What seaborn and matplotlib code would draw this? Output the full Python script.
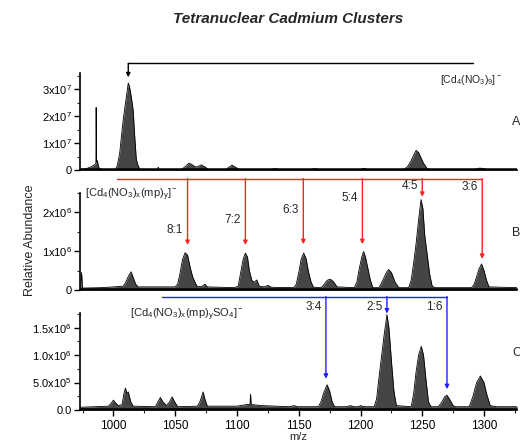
import matplotlib
matplotlib.use("Agg")
import pandas as pd
import matplotlib.pyplot as plt
import seaborn as sns
from matplotlib.ticker import MultipleLocator

# Setup
sns.set_theme(style="ticks")
plt.rcParams["font.family"] = ["Liberation Sans", "DejaVu Sans"]
plt.rcParams["mathtext.fontset"] = "custom"
plt.rcParams["mathtext.rm"] = "Liberation Sans"
plt.rcParams["mathtext.it"] = "Liberation Sans:italic"
plt.rcParams["mathtext.bf"] = "Liberation Sans:bold"
plt.rcParams["mathtext.default"] = "regular"

# --- Spectrum outlines (m/z, intensity) ---
# A: intensity in 1e7
mz_a = [973.5, 978, 982, 985, 985.8, 986, 986.3, 987, 988, 990,
        1001.5, 1003, 1005, 1006.7, 1008, 1009.5, 1011, 1012, 1013, 1014.5,
        1016, 1017, 1017.6, 1018.5, 1020, 1021.6,
        1036, 1036.2, 1036.5,
        1055, 1058, 1061, 1063, 1066, 1068, 1071, 1074, 1077,
        1091, 1094, 1096, 1099, 1102,
        1128, 1131, 1134, 1160, 1163, 1166, 1200, 1203, 1206,
        1235, 1238, 1241, 1243, 1245, 1247, 1249, 1251, 1254, 1256,
        1293, 1296, 1299, 1302, 1327]
int_a = [0.02, 0.05, 0.12, 0.2, 0.25, 2.32, 0.3, 0.35, 0.1, 0.02,
         0.02, 0.15, 0.6, 1.35, 1.9, 2.4, 2.9, 3.23, 3.1, 2.7,
         2.2, 1.4, 1.0, 0.4, 0.15, 0.02,
         0.02, 0.1, 0.02,
         0.02, 0.12, 0.25, 0.22, 0.12, 0.12, 0.19, 0.12, 0.02,
         0.02, 0.12, 0.18, 0.1, 0.02,
         0.02, 0.05, 0.02, 0.02, 0.05, 0.02, 0.02, 0.06, 0.02,
         0.02, 0.12, 0.35, 0.55, 0.73, 0.65, 0.45, 0.25, 0.05, 0.02,
         0.02, 0.07, 0.06, 0.02, 0.02]

# B: intensity in 1e6
mz_b = [973.5, 974.2, 975, 990, 1000, 1008, 1010, 1012, 1014.3, 1016, 1018, 1020,
        1040, 1050, 1052, 1054, 1056, 1058, 1060, 1062, 1064, 1066, 1068,
        1072, 1074, 1076,
        1098, 1101, 1103, 1105, 1106.8, 1108.5, 1110, 1112, 1114, 1116, 1118,
        1122, 1125, 1128,
        1146, 1148, 1150, 1152, 1154, 1156, 1158, 1160, 1162,
        1168, 1170, 1173, 1175.5, 1178, 1181,
        1195, 1197, 1199, 1201, 1202.5, 1204, 1206, 1208, 1210,
        1215, 1218, 1221, 1222.8, 1225, 1228, 1231,
        1239, 1241, 1243, 1245, 1247, 1249, 1250.5, 1252, 1254, 1256, 1258, 1260,
        1290, 1292, 1294, 1296, 1298, 1300, 1302, 1304, 1327]
int_b = [0.05, 0.45, 0.05, 0.06, 0.08, 0.1, 0.2, 0.35, 0.47, 0.32, 0.15, 0.08,
         0.08, 0.08, 0.15, 0.45, 0.8, 0.96, 0.9, 0.6, 0.35, 0.2, 0.08,
         0.1, 0.15, 0.08,
         0.06, 0.1, 0.45, 0.8, 0.95, 0.85, 0.5, 0.25, 0.2, 0.26, 0.1,
         0.08, 0.12, 0.07,
         0.06, 0.15, 0.45, 0.8, 0.95, 0.8, 0.45, 0.2, 0.07,
         0.06, 0.12, 0.25, 0.28, 0.22, 0.08,
         0.06, 0.2, 0.55, 0.85, 0.99, 0.85, 0.55, 0.25, 0.06,
         0.06, 0.25, 0.45, 0.53, 0.45, 0.2, 0.06,
         0.06, 0.25, 0.7, 1.2, 1.8, 2.33, 2.1, 1.4, 0.9, 0.4, 0.1, 0.06,
         0.06, 0.15, 0.35, 0.55, 0.67, 0.5, 0.25, 0.08, 0.06]

# C: intensity in 1e6
mz_c = [973.5, 985, 996, 998, 1000, 1002, 1004, 1007, 1008.5, 1009.7, 1011, 1012, 1014, 1016,
        1034, 1036, 1038, 1040, 1043, 1045.5, 1047.5, 1049.5, 1052,
        1068, 1070, 1072.6, 1074, 1076,
        1100, 1108, 1110.5, 1111, 1111.5, 1120,
        1143, 1146, 1149,
        1166, 1168, 1170, 1172.9, 1175, 1177, 1179,
        1189, 1191.7, 1195, 1198, 1200, 1203,
        1211, 1213, 1215, 1217, 1219, 1221.4, 1223, 1225, 1227, 1229,
        1241, 1243, 1245, 1247, 1249.2, 1251, 1253, 1255, 1257,
        1263, 1266, 1268, 1270, 1272, 1275, 1277,
        1288, 1291, 1294, 1297, 1300, 1302, 1305, 1310, 1327]
int_c = [0.05, 0.06, 0.07, 0.12, 0.18, 0.12, 0.08, 0.1, 0.3, 0.4, 0.3, 0.33, 0.15, 0.07,
         0.06, 0.15, 0.23, 0.15, 0.08, 0.15, 0.24, 0.15, 0.06,
         0.07, 0.15, 0.33, 0.2, 0.07,
         0.07, 0.1, 0.1, 0.29, 0.1, 0.08,
         0.06, 0.08, 0.06,
         0.06, 0.15, 0.3, 0.46, 0.35, 0.15, 0.06,
         0.06, 0.08, 0.06, 0.06, 0.08, 0.06,
         0.06, 0.2, 0.6, 0.97, 1.35, 1.74, 1.5, 0.9, 0.35, 0.08,
         0.06, 0.3, 0.7, 1.0, 1.16, 1.0, 0.55, 0.15, 0.06,
         0.06, 0.15, 0.24, 0.27, 0.2, 0.08, 0.06,
         0.06, 0.25, 0.5, 0.62, 0.5, 0.3, 0.08, 0.06, 0.06]

# Assignments
a_arrow_mz = [1012]
a_arrow_tip = [3.44]
a_formula = r"[Cd$_4$(NO$_3$)$_9$]$^-$"

b_labels = ["8:1", "7:2", "6:3", "5:4", "4:5", "3:6"]
b_arrow_mz = [1060, 1106.8, 1153.7, 1201.5, 1250, 1298.5]
b_arrow_tip = [1.16, 1.16, 1.18, 1.18, 2.4, 0.8]
b_label_y = [1.55, 1.81, 2.07, 2.38, 2.69, 2.66]
b_formula = r"[Cd$_4$(NO$_3$)$_x$(mp)$_y$]$^-$"

c_labels = ["3:4", "2:5", "1:6"]
c_arrow_mz = [1172, 1221.4, 1270]
c_arrow_tip = [0.57, 1.76, 0.38]
c_formula = r"[Cd$_4$(NO$_3$)$_x$(mp)$_y$SO$_4$]$^-$"

a_ticks = [0, 1, 2, 3]
a_ticklabels = ["0", r"$1\mathrm{x}10^7$", r"$2\mathrm{x}10^7$", r"$3\mathrm{x}10^7$"]
b_ticks = [0, 1, 2]
b_ticklabels = ["0", r"$1\mathrm{x}10^6$", r"$2\mathrm{x}10^6$"]
c_ticks = [0, 0.5, 1.0, 1.5]
c_ticklabels = ["0.0", r"$5.0\mathrm{x}10^5$", r"$1.0\mathrm{x}10^6$", r"$1.5\mathrm{x}10^6$"]
x_ticks = [1000, 1050, 1100, 1150, 1200, 1250, 1300]

fig = plt.figure(figsize=(5.2, 4.41), dpi=100)
left, width = 0.154, 0.841
ax_a = fig.add_axes([left, 0.6145, width, 0.2200])
ax_b = fig.add_axes([left, 0.3424, width, 0.2200])
ax_c = fig.add_axes([left, 0.0703, width, 0.2200])


def draw_spectrum(ax, mz, inten, ymax, minor):
    df = pd.DataFrame({"mz": mz, "I": inten})
    ax.fill_between(df["mz"], 0, df["I"], color="#454545", lw=0)
    sns.lineplot(data=df, x="mz", y="I", ax=ax, color="black", lw=0.6, sort=False)
    ax.plot([973, 1327], [0.01 * ymax, 0.01 * ymax], color="black", lw=1.8)
    ax.set_xlim(973, 1327)
    ax.set_ylim(0, ymax)
    ax.set_xlabel("")
    ax.set_ylabel("")
    ax.yaxis.set_minor_locator(MultipleLocator(minor))
    ax.tick_params(axis="y", which="major", direction="out", length=4, width=1,
                   labelsize=8, pad=2, colors="black")
    ax.tick_params(axis="y", which="minor", direction="out", length=2, width=0.8)
    for s in ["top", "right"]:
        ax.spines[s].set_visible(False)
    for s in ["left", "bottom"]:
        ax.spines[s].set_color("black")
        ax.spines[s].set_linewidth(1.2)


def draw_arrows(ax, xs, tips, y_line, x_start, color):
    ax.plot([x_start, xs[-1]], [y_line, y_line], color=color, lw=1, clip_on=False)
    for x, tip in zip(xs, tips):
        ax.annotate("", xy=(x, tip), xytext=(x, y_line), annotation_clip=False,
                    arrowprops=dict(arrowstyle="-|>", color=color, lw=1,
                                    mutation_scale=6, shrinkA=0, shrinkB=0))


# Panel A
draw_spectrum(ax_a, mz_a, int_a, 3.6, 0.5)
ax_a.set_yticks(a_ticks, a_ticklabels)
ax_a.set_xticks([])
draw_arrows(ax_a, a_arrow_mz + [1291], a_arrow_tip + [3.96], 3.96, 1012, "black")
ax_a.text(1264.6, 3.33, a_formula, fontsize=7.5, va="center", ha="left")

# Panel B
draw_spectrum(ax_b, mz_b, int_b, 2.5, 0.5)
ax_b.set_yticks(b_ticks, b_ticklabels)
ax_b.set_xticks([])
draw_arrows(ax_b, b_arrow_mz, b_arrow_tip, 2.87, 1003, "#ff2020")
for lab, x, y in zip(b_labels, b_arrow_mz, b_label_y):
    ax_b.text(x - 3.5, y, lab, fontsize=8.5, ha="right", va="center")
ax_b.text(977.3, 2.45, b_formula, fontsize=8, va="center", ha="left")

# Panel C
draw_spectrum(ax_c, mz_c, int_c, 1.77, 0.25)
ax_c.set_yticks(c_ticks, c_ticklabels)
ax_c.set_xticks(x_ticks)
ax_c.xaxis.set_minor_locator(MultipleLocator(25))
ax_c.tick_params(axis="x", which="major", direction="out", length=4, width=1,
                 labelsize=8.5, pad=3, colors="black", bottom=True)
ax_c.tick_params(axis="x", which="minor", direction="out", length=2, width=0.8, bottom=True)
draw_arrows(ax_c, c_arrow_mz, c_arrow_tip, 2.07, 1039.4, "#2020ff")
for lab, x in zip(c_labels, c_arrow_mz):
    ax_c.text(x - 3.5, 1.88, lab, fontsize=8.5, ha="right", va="center")
ax_c.text(1013.8, 1.74, c_formula, fontsize=8, va="center", ha="left")
ax_c.set_xlabel("m/z", fontsize=8, labelpad=0)

# Panel letters, title, shared y label
for lab, y in zip(["A", "B", "C"], [0.724, 0.472, 0.200]):
    fig.text(0.985, y, lab, fontsize=9, va="center", ha="left")
fig.text(0.555, 0.958, "Tetranuclear Cadmium Clusters", fontsize=11,
         fontweight="bold", fontstyle="italic", ha="center", va="center")
fig.text(0.058, 0.455, "Relative Abundance", fontsize=9, rotation=90,
         ha="center", va="center")

fig.savefig("out.png", dpi=100)
